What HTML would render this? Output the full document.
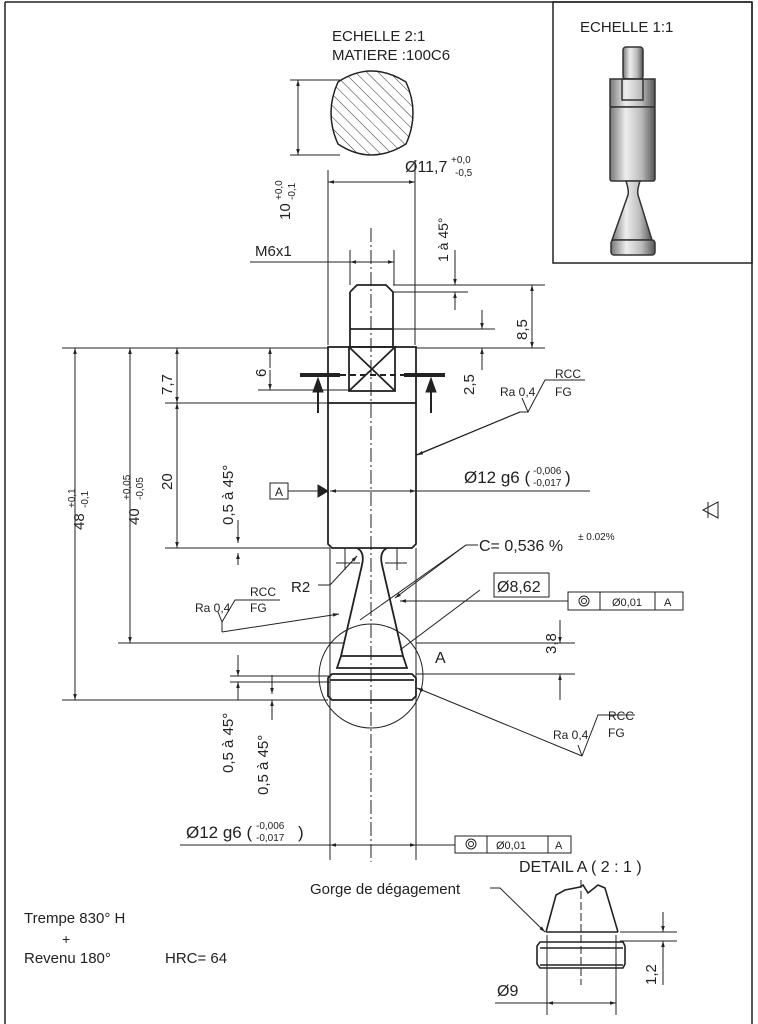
<!DOCTYPE html>
<html><head><meta charset="utf-8"><style>
html,body{margin:0;padding:0;background:#fff;}
svg{display:block;}
text{font-family:"Liberation Sans",sans-serif;fill:#222;}
</style></head><body>
<svg width="758" height="1024" viewBox="0 0 758 1024" xmlns="http://www.w3.org/2000/svg">
<defs>
<marker id="a" viewBox="0 0 10 10" refX="10" refY="5" markerWidth="8" markerHeight="6" orient="auto-start-reverse"><path d="M0,2 L10,5 L0,8 z" fill="#222"/></marker>
<pattern id="h" width="8" height="8" patternUnits="userSpaceOnUse" patternTransform="rotate(-45)"><line x1="0" y1="0" x2="0" y2="8" stroke="#333" stroke-width="1"/></pattern>
<linearGradient id="g" x1="0" x2="1"><stop offset="0" stop-color="#777"/><stop offset="0.35" stop-color="#eee"/><stop offset="0.7" stop-color="#bbb"/><stop offset="1" stop-color="#555"/></linearGradient>
</defs>
<g stroke="#222" fill="none" stroke-width="1">
<!-- border -->
<line x1="5" y1="2" x2="5" y2="1024" stroke-width="1.5"/>
<line x1="5" y1="2" x2="752" y2="2" stroke-width="1.5"/>
<line x1="752" y1="2" x2="752" y2="1024" stroke-width="1.5"/>
<rect x="553" y="2" width="199" height="261" stroke-width="1.5"/>
<path d="M703,510 L718,502 L718,518 Z M708,502 L708,518"/>
<!-- inset part -->
<g stroke="#333" stroke-width="1.5">
<rect x="623" y="47" width="20" height="32" rx="3" fill="url(#g)"/>
<rect x="610" y="79" width="45" height="28" fill="url(#g)"/>
<rect x="622" y="79" width="21" height="21" fill="none"/>
<rect x="610" y="107" width="45" height="74" rx="2" fill="url(#g)"/>
<path d="M626,181 Q629,190 628,195 L612,240 L652,240 L638,195 Q637,190 640,181 Z" fill="url(#g)"/>
<rect x="611" y="240" width="44" height="15" rx="3" fill="url(#g)"/>
</g>
<!-- section view -->
<path d="M338,82 Q371,60 406,82 Q420,113 406,144 Q371,166 338,144 Q324,113 338,82 Z" fill="url(#h)" stroke-width="1.5"/>
<line x1="290" y1="80" x2="340" y2="80"/><line x1="290" y1="155" x2="340" y2="155"/>
<line x1="298" y1="80" x2="298" y2="155" marker-start="url(#a)" marker-end="url(#a)"/>
<line x1="328" y1="170" x2="328" y2="345"/><line x1="415" y1="160" x2="415" y2="345"/>
<line x1="328" y1="182" x2="415" y2="182" marker-start="url(#a)" marker-end="url(#a)"/>
<!-- centerline -->
<line x1="371" y1="228" x2="371" y2="862" stroke-dasharray="14,3,2,3"/>
<!-- M6x1 -->
<line x1="250" y1="262" x2="392" y2="262"/>
<line x1="350" y1="250" x2="350" y2="285"/><line x1="394" y1="250" x2="394" y2="285"/>
<line x1="350" y1="262" x2="394" y2="262" marker-start="url(#a)" marker-end="url(#a)"/>
<!-- thread -->
<g stroke-width="1.8">
<path d="M350,292 L357,285 L386,285 L393,292 L393,348 M350,292 L350,348"/>
<line x1="350" y1="329" x2="393" y2="329"/>
<rect x="328" y="347" width="88" height="56"/>
<rect x="349" y="347" width="46" height="44"/>
<line x1="349" y1="347" x2="395" y2="391"/><line x1="395" y1="347" x2="349" y2="391"/>
<path d="M328,403 L328,544 L332,548 L412,548 L416,544 L416,403"/>
<path d="M357,548 Q365,552 362,565 L341,656 L337,668 L407,668 L403,656 L382,565 Q379,552 387,548"/>
<line x1="341" y1="656" x2="403" y2="656"/>
<path d="M332,674 L412,674 L416,678 L416,696 L412,700 L332,700 L328,696 L328,678 Z"/>
<line x1="330" y1="680" x2="414" y2="680"/>
</g>
<line x1="330" y1="548" x2="330" y2="860"/><line x1="416" y1="548" x2="416" y2="860"/>
<!-- section line -->
<line x1="300" y1="375" x2="340" y2="375" stroke-width="4"/>
<line x1="404" y1="375" x2="445" y2="375" stroke-width="4"/>
<line x1="340" y1="375" x2="404" y2="375" stroke-width="2" stroke-dasharray="6,4"/>
<path d="M318,413 L318,385" stroke-width="2"/><path d="M313,392 L318,378 L323,392 Z" fill="#222"/>
<path d="M431,413 L431,385" stroke-width="2"/><path d="M426,392 L431,378 L436,392 Z" fill="#222"/>
<!-- detail circle -->
<circle cx="371" cy="676" r="52"/>
<!-- left dims -->
<line x1="62" y1="348" x2="328" y2="348"/>
<line x1="62" y1="700" x2="328" y2="700"/>
<line x1="118" y1="643" x2="345" y2="643"/>
<line x1="165" y1="403" x2="328" y2="403"/>
<line x1="165" y1="548" x2="330" y2="548"/>
<line x1="75" y1="348" x2="75" y2="700" marker-start="url(#a)" marker-end="url(#a)"/>
<line x1="130" y1="348" x2="130" y2="643" marker-start="url(#a)" marker-end="url(#a)"/>
<line x1="177" y1="348" x2="177" y2="403" marker-start="url(#a)" marker-end="url(#a)"/>
<line x1="177" y1="403" x2="177" y2="548" marker-start="url(#a)" marker-end="url(#a)"/>
<line x1="238" y1="520" x2="238" y2="543" marker-end="url(#a)"/><line x1="238" y1="553" x2="238" y2="565" marker-start="url(#a)"/>
<line x1="270" y1="348" x2="270" y2="368" marker-start="url(#a)"/><line x1="270" y1="390" x2="270" y2="370" />
<line x1="258" y1="390" x2="349" y2="390"/>
<line x1="270" y1="370" x2="270" y2="390" marker-end="url(#a)"/>
<!-- datum A -->
<rect x="270" y="483" width="18" height="16"/>
<line x1="288" y1="491" x2="318" y2="491"/>
<path d="M318,485 L328,491 L318,497 Z" fill="#222"/>
<line x1="330" y1="491" x2="590" y2="491" marker-start="url(#a)"/>
<line x1="395" y1="491" x2="416" y2="491" marker-end="url(#a)"/>
<!-- right dims -->
<line x1="393" y1="285" x2="545" y2="285"/><line x1="416" y1="348" x2="545" y2="348"/>
<line x1="532" y1="285" x2="532" y2="348" marker-start="url(#a)" marker-end="url(#a)"/>
<line x1="393" y1="292" x2="468" y2="292"/>
<line x1="455" y1="250" x2="455" y2="285" marker-end="url(#a)"/><line x1="455" y1="310" x2="455" y2="292" marker-end="url(#a)"/>
<line x1="393" y1="329" x2="495" y2="329"/>
<line x1="482" y1="310" x2="482" y2="329" marker-end="url(#a)"/><line x1="482" y1="370" x2="482" y2="348" marker-end="url(#a)"/>
<line x1="416" y1="674" x2="575" y2="674"/>
<line x1="560" y1="620" x2="560" y2="643" marker-end="url(#a)"/><line x1="560" y1="700" x2="560" y2="674" marker-end="url(#a)"/>
<line x1="416" y1="643" x2="575" y2="643"/>
<!-- roughness 1 -->
<path d="M416,455 L520,412 L528,412 L522,398 M528,412 L545,380 L585,380"/>
<line x1="520" y1="412" x2="417" y2="455" marker-end="url(#a)"/>
<!-- C= -->
<path d="M478,545 L466,545 L395,598" marker-end="url(#a)"/>
<path d="M466,545 L360,620"/>
<!-- 8,62 -->
<line x1="400" y1="601" x2="490" y2="601" marker-start="url(#a)"/>
<line x1="490" y1="601" x2="568" y2="601"/>
<line x1="480" y1="590" x2="400" y2="650"/>
<rect x="494" y="573" width="55" height="24"/>
<rect x="568" y="592" width="115" height="18"/><line x1="600" y1="592" x2="600" y2="610"/><line x1="655" y1="592" x2="655" y2="610"/>
<circle cx="584" cy="601" r="5"/><circle cx="584" cy="601" r="2.5"/>
<!-- roughness left -->
<path d="M222,622 L218,612 M222,622 L235,600 L280,600"/>
<line x1="222" y1="632" x2="339" y2="614" marker-end="url(#a)"/>
<path d="M222,632 L222,622"/>
<!-- R2 -->
<path d="M318,585 L330,585 L357,556" marker-end="url(#a)"/>
<line x1="345" y1="548" x2="345" y2="570"/><line x1="336" y1="563" x2="360" y2="563"/>
<line x1="397" y1="548" x2="397" y2="570"/><line x1="385" y1="563" x2="407" y2="563"/>
<!-- roughness lower -->
<path d="M582,756 L578,745 M582,756 L598,715 L635,715"/>
<line x1="582" y1="756" x2="417" y2="688" marker-end="url(#a)"/>
<!-- lower left dims -->
<line x1="230" y1="676" x2="330" y2="676"/><line x1="230" y1="682" x2="330" y2="682"/>
<line x1="238" y1="655" x2="238" y2="676" marker-end="url(#a)"/><line x1="238" y1="700" x2="238" y2="682" marker-end="url(#a)"/>
<line x1="272" y1="700" x2="328" y2="700"/>
<line x1="272" y1="675" x2="272" y2="694" marker-end="url(#a)"/><line x1="272" y1="720" x2="272" y2="700" marker-end="url(#a)"/>
<!-- bottom Ø12 -->
<line x1="180" y1="845" x2="330" y2="845"/>
<line x1="330" y1="845" x2="416" y2="845" marker-start="url(#a)" marker-end="url(#a)"/>
<line x1="416" y1="845" x2="455" y2="845"/>
<rect x="455" y="836" width="116" height="17"/><line x1="487" y1="836" x2="487" y2="853"/><line x1="548" y1="836" x2="548" y2="853"/>
<circle cx="471" cy="844" r="5"/><circle cx="471" cy="844" r="2.5"/>
<!-- detail A -->
<g stroke-width="1.6">
<path d="M546,932 L556,895 L565,890 L580,887 L583,885 L588,893 L598,885 L605,888 L618,932"/>
<line x1="546" y1="932" x2="618" y2="932"/>
<path d="M540,942 L623,942 L625,946 L625,964 L623,968 L540,968 L537,964 L537,946 Z"/>
<line x1="540" y1="948" x2="623" y2="948"/><line x1="540" y1="965" x2="623" y2="965"/>
</g>
<line x1="581" y1="880" x2="581" y2="985" stroke-dasharray="8,3"/>
<line x1="620" y1="932" x2="677" y2="932"/><line x1="620" y1="941" x2="677" y2="941"/>
<line x1="663" y1="912" x2="663" y2="932" marker-end="url(#a)"/><line x1="663" y1="985" x2="663" y2="941" marker-end="url(#a)"/>
<line x1="547" y1="935" x2="547" y2="1015"/><line x1="616" y1="935" x2="616" y2="1015"/>
<line x1="495" y1="1003" x2="547" y2="1003"/>
<line x1="547" y1="1003" x2="616" y2="1003" marker-start="url(#a)" marker-end="url(#a)"/>
<path d="M490,888 L500,888 L545,932" marker-end="url(#a)"/>
</g>
<!-- texts -->
<text x="332" y="41" font-size="15">ECHELLE 2:1</text>
<text x="332" y="60" font-size="15">MATIERE :100C6</text>
<text x="580" y="32" font-size="15">ECHELLE 1:1</text>
<text x="405" y="172" font-size="16">Ø11,7</text>
<text x="451" y="163" font-size="10">+0,0</text><text x="455" y="176" font-size="10">-0,5</text>
<text transform="translate(290,220) rotate(-90)" font-size="15">10</text>
<text transform="translate(282,200) rotate(-90)" font-size="10">+0,0</text>
<text transform="translate(295,200) rotate(-90)" font-size="10">-0,1</text>
<text transform="translate(448,262) rotate(-90)" font-size="14">1 à 45°</text>
<text x="255" y="256" font-size="15">M6x1</text>
<text transform="translate(527,340) rotate(-90)" font-size="15">8,5</text>
<text transform="translate(266,377) rotate(-90)" font-size="15">6</text>
<text transform="translate(172,395) rotate(-90)" font-size="15">7,7</text>
<text transform="translate(474,395) rotate(-90)" font-size="15">2,5</text>
<text x="500" y="396" font-size="12">Ra 0,4</text>
<text x="555" y="378" font-size="12">RCC</text>
<text x="555" y="396" font-size="12">FG</text>
<text transform="translate(172,490) rotate(-90)" font-size="15">20</text>
<text transform="translate(233,525) rotate(-90)" font-size="15">0,5 à 45°</text>
<text x="275" y="496" font-size="12">A</text>
<text x="464" y="483" font-size="17">Ø12 g6 (</text>
<text x="533" y="474" font-size="10">-0,006</text><text x="533" y="486" font-size="10">-0,017</text>
<text x="565" y="483" font-size="17">)</text>
<text transform="translate(84,530) rotate(-90)" font-size="15">48</text>
<text transform="translate(75,508) rotate(-90)" font-size="10">+0,1</text>
<text transform="translate(88,508) rotate(-90)" font-size="10">-0,1</text>
<text transform="translate(139,525) rotate(-90)" font-size="15">40</text>
<text transform="translate(130,500) rotate(-90)" font-size="10">+0,05</text>
<text transform="translate(143,500) rotate(-90)" font-size="10">-0,05</text>
<text x="479" y="551" font-size="16">C= 0,536 %</text>
<text x="578" y="540" font-size="10">± 0.02%</text>
<text x="291" y="592" font-size="15">R2</text>
<text x="497" y="592" font-size="16">Ø8,62</text>
<text x="612" y="606" font-size="11">Ø0,01</text>
<text x="664" y="606" font-size="11">A</text>
<text x="195" y="612" font-size="12">Ra 0,4</text>
<text x="250" y="596" font-size="12">RCC</text>
<text x="250" y="612" font-size="12">FG</text>
<text x="435" y="663" font-size="16">A</text>
<text transform="translate(556,654) rotate(-90)" font-size="15">3,8</text>
<text x="553" y="739" font-size="12">Ra 0,4</text>
<text x="608" y="720" font-size="12">RCC</text>
<text x="608" y="737" font-size="12">FG</text>
<text transform="translate(233,773) rotate(-90)" font-size="15">0,5 à 45°</text>
<text transform="translate(268,795) rotate(-90)" font-size="15">0,5 à 45°</text>
<text x="186" y="838" font-size="17">Ø12 g6 (</text>
<text x="256" y="829" font-size="10">-0,006</text><text x="256" y="841" font-size="10">-0,017</text>
<text x="298" y="838" font-size="17">)</text>
<text x="496" y="849" font-size="11">Ø0,01</text>
<text x="555" y="849" font-size="11">A</text>
<text x="519" y="872" font-size="16">DETAIL  A  ( 2 : 1 )</text>
<text x="310" y="894" font-size="15">Gorge de dégagement</text>
<text x="24" y="923" font-size="15">Trempe 830° H</text>
<text x="62" y="944" font-size="14">+</text>
<text x="24" y="963" font-size="15">Revenu 180°</text>
<text x="165" y="963" font-size="15">HRC= 64</text>
<text x="497" y="996" font-size="16">Ø9</text>
<text transform="translate(656,985) rotate(-90)" font-size="15">1,2</text>
</svg>
</body></html>
